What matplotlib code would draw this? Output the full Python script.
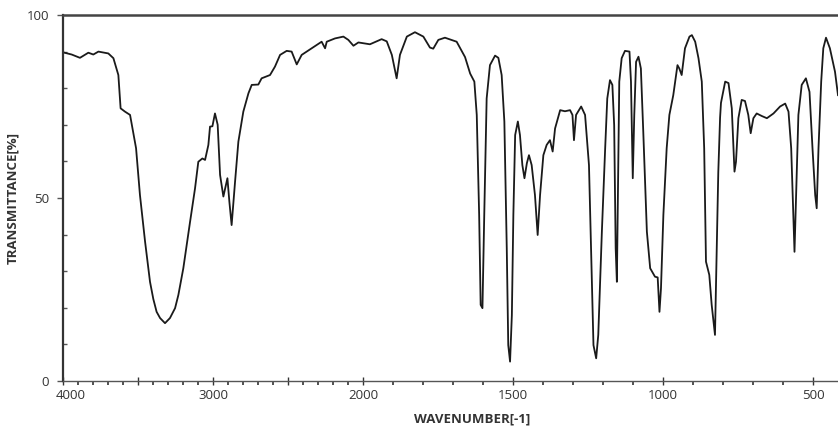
import numpy as np
import matplotlib
matplotlib.use("Agg")
import matplotlib.pyplot as plt
import matplotlib.transforms as mtransforms
from matplotlib.ticker import FixedLocator, NullFormatter

wavenumber = [4000, 3942, 3887, 3831, 3798, 3764, 3698, 3664, 3631, 3616, 3587, 3553, 3513, 3487,
              3453, 3420, 3398, 3376, 3353, 3320, 3287, 3253, 3231, 3198, 3153, 3120, 3098, 3071, 3053, 3031, 3020, 3004,
              2987, 2969, 2953, 2931, 2904, 2891, 2876, 2853, 2831, 2798, 2764, 2742, 2698, 2676,
              2620, 2587, 2553, 2509, 2476, 2442, 2409, 2342, 2276, 2253, 2242, 2187, 2131, 2098,
              2064, 2031, 1977, 1938, 1921, 1904, 1888, 1877, 1854, 1827, 1799, 1777, 1766, 1749,
              1727, 1688, 1660, 1643, 1629, 1621, 1613, 1608, 1602, 1596, 1588, 1577, 1560, 1549,
              1538, 1529, 1521, 1516, 1510, 1504, 1499, 1493, 1484, 1477, 1469, 1462, 1454, 1447,
              1438, 1427, 1418, 1410, 1399, 1388, 1377, 1368, 1360, 1343, 1327, 1310, 1302, 1297,
              1290, 1273, 1260, 1247, 1240, 1232, 1223, 1216, 1204, 1193, 1186, 1177, 1169, 1163,
              1158, 1154, 1150, 1146, 1138, 1127, 1112, 1107, 1101, 1096, 1090, 1082, 1074, 1066,
              1054, 1043, 1027, 1018, 1012, 1007, 999, 988, 979, 966, 952, 946, 938, 927, 912, 904,
              893, 882, 871, 863, 857, 852, 846, 838, 827, 822, 816, 810, 807, 793, 782, 771, 762,
              757, 749, 738, 727, 716, 708, 699, 688, 671, 654, 632, 610, 593, 582, 573, 566, 562,
              557, 549, 538, 524, 512, 502, 493, 488, 482, 473, 466, 457, 444, 427, 417]
transmittance = [89.8, 89.2, 88.3, 89.7, 89.2, 90.0, 89.5, 88.2, 83.6, 74.5, 73.6, 72.7, 63.6, 50.8,
                 38.1, 27.1, 22.4, 18.9, 17.2, 15.8, 17.2, 19.9, 23.5, 30.8, 43.5, 52.6, 59.9, 60.8, 60.4, 64.5, 69.5, 69.6,
                 73.1, 70.0, 56.3, 50.4, 55.4, 49.0, 42.6, 54.5, 65.4, 73.6, 78.6, 80.9, 81.0, 82.7,
                 83.6, 85.9, 89.1, 90.2, 90.0, 86.5, 89.1, 90.9, 92.7, 90.9, 92.7, 93.6, 94.1, 93.2,
                 91.6, 92.5, 92.0, 93.4, 92.8, 89.1, 82.7, 89.1, 94.1, 95.3, 94.1, 91.1, 90.8, 93.2,
                 93.8, 92.7, 88.5, 84.0, 81.8, 72.7, 45.4, 20.8, 19.9, 45.4, 77.2, 86.3, 88.9, 88.3,
                 83.6, 70.9, 36.3, 9.8, 5.3, 18.0, 45.4, 67.2, 70.9, 67.2, 59.0, 55.4, 59.5, 61.7,
                 59.0, 50.8, 39.9, 50.8, 61.7, 64.5, 65.8, 62.7, 69.0, 74.0, 73.7, 74.0, 72.7, 65.8,
                 72.7, 75.0, 72.7, 59.0, 36.0, 9.8, 6.2, 12.6, 40.8, 63.6, 77.2, 82.2, 80.9, 69.9,
                 36.3, 27.1, 54.5, 81.8, 88.2, 90.2, 90.0, 81.8, 55.4, 72.7, 87.2, 88.6, 85.4, 68.1,
                 40.8, 30.8, 28.5, 28.3, 18.9, 25.3, 45.4, 63.6, 72.7, 78.1, 86.3, 85.4, 83.6, 90.9, 94.1, 94.5,
                 92.7, 88.2, 81.8, 63.6, 32.6, 31.0, 29.0, 20.8, 12.6, 33.0, 57.0, 72.0, 76.0, 81.8, 81.4, 74.5, 57.2,
                 59.9, 71.8, 76.8, 76.5, 72.7, 67.7, 71.8, 73.1, 72.4, 71.8, 73.1, 75.0, 75.8, 73.6, 63.6, 45.4, 35.3,
                 49.9, 72.7, 80.9, 82.7, 79.0, 63.6, 50.8, 47.2, 63.6, 81.8, 90.9, 93.8, 90.9, 84.5, 78.1]

x_labels = [4000, 3000, 2000, 1500, 1000, 500]
y_labels = [0, 50, 100]


def fwd(w):
    w = np.asarray(w, dtype=float)
    return np.where(w >= 2000, w, 2000 - (2000 - w) * 2.0)


def inv(u):
    u = np.asarray(u, dtype=float)
    return np.where(u >= 2000, u, 2000 - (2000 - u) / 2.0)


plt.rcParams['font.family'] = ['Open Sans', 'DejaVu Sans']

fig = plt.figure(figsize=(8.38, 4.32), dpi=100)
ax = fig.add_axes([63 / 838, (432 - 381) / 432, 1 - 63 / 838, 366 / 432])
ax.set_xscale('function', functions=(fwd, inv))
ax.plot(wavenumber, transmittance, color='#1a1a1a', lw=1.3)
ax.set_xlim(4000, 417)
ax.set_ylim(0, 100)

major_x = [4000, 3500, 3000, 2500, 2000, 1500, 1000, 500]
minor_x = [w for w in range(3900, 400, -100) if w not in major_x]
ax.xaxis.set_major_locator(FixedLocator(major_x))
ax.set_xticklabels([str(w) if w in x_labels else '' for w in major_x])
ax.xaxis.set_minor_locator(FixedLocator(minor_x))
ax.xaxis.set_minor_formatter(NullFormatter())
ax.yaxis.set_major_locator(FixedLocator(y_labels))
ax.yaxis.set_minor_locator(FixedLocator([10, 20, 30, 40, 60, 70, 80, 90]))

ax.tick_params(axis='x', which='major', direction='inout', length=6, width=1, color='#333333',
               labelsize=9.5, labelcolor='#333333', pad=3)
ax.tick_params(axis='x', which='minor', direction='out', length=3, width=1.2, color='#333333')
ax.tick_params(axis='y', which='major', direction='out', length=4, width=1, color='#555555',
               labelsize=9.5, labelcolor='#333333', pad=6)
ax.tick_params(axis='y', which='minor', direction='in', length=3, width=1, color='#555555')

# first x tick label sits slightly right of its tick
fig.canvas.draw()
first = ax.get_xticklabels()[0]
first.set_transform(first.get_transform() + mtransforms.ScaledTranslation(8 / 100, 0, fig.dpi_scale_trans))

ax.spines['left'].set_linewidth(1.6)
ax.spines['left'].set_color('#333333')
ax.spines['top'].set_linewidth(1.8)
ax.spines['top'].set_color('#444444')
ax.spines['bottom'].set_linewidth(1.0)
ax.spines['bottom'].set_color('#555555')
ax.spines['right'].set_visible(False)

ax.set_xlabel('WAVENUMBER[-1]', fontsize=9.5, fontweight='bold', color='#333333')
ax.xaxis.set_label_coords(0.528, -0.085)
ax.set_ylabel('TRANSMITTANCE[%]', fontsize=9.5, fontweight='bold', color='#333333')
ax.yaxis.set_label_coords(-0.057, 0.5)

fig.savefig('out.png', dpi=100)
